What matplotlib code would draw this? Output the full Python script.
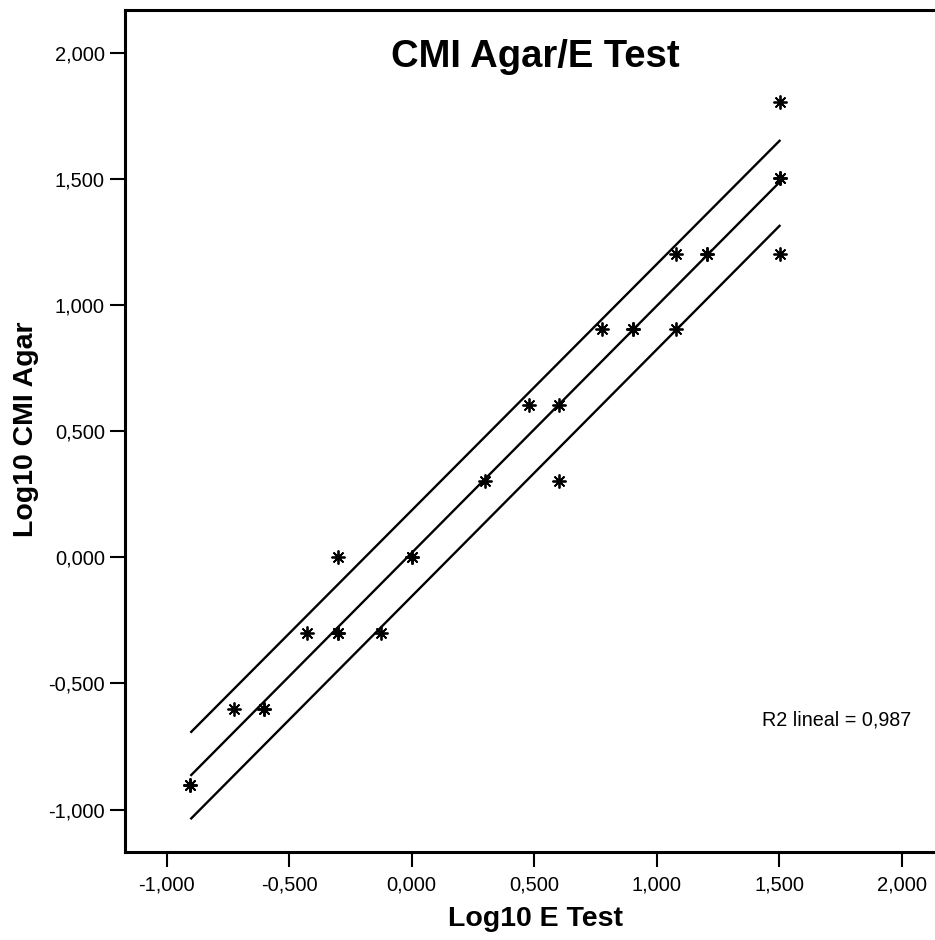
import matplotlib
matplotlib.use("Agg")
import matplotlib.pyplot as plt
from matplotlib.ticker import FixedLocator, FuncFormatter

plt.rcParams['font.family'] = ['Liberation Sans', 'DejaVu Sans']

# ---- data ----
log_etest = [-0.903, -0.903, -0.727, -0.602, -0.602, -0.426, -0.301, -0.301,
             -0.301, -0.125, 0.000, 0.000, 0.301, 0.477, 0.602, 0.602,
             0.778, 0.903, 0.903, 1.079, 1.079, 1.204, 1.204,
             1.505, 1.505, 1.505, 1.505]
log_cmi = [-0.903, -0.903, -0.602, -0.602, -0.602, -0.301, -0.301, -0.301,
           0.000, -0.301, 0.000, 0.000, 0.301, 0.602, 0.602, 0.301,
           0.903, 0.903, 0.903, 0.903, 1.204, 1.204, 1.204,
           1.806, 1.505, 1.505, 1.204]

fit_x = [-0.903, 1.505]
fit_mid = [-0.866, 1.490]
fit_upper = [-0.695, 1.654]
fit_lower = [-1.038, 1.317]

x_ticks = [-1.0, -0.5, 0.0, 0.5, 1.0, 1.5, 2.0]
y_ticks = [-1.0, -0.5, 0.0, 0.5, 1.0, 1.5, 2.0]

title = "CMI Agar/E Test"
x_label = "Log10 E Test"
y_label = "Log10 CMI Agar"
r2_text = "R2 lineal = 0,987"

# ---- figure ----
W, H = 935, 940
fig = plt.figure(figsize=(W / 100, H / 100), dpi=100)
ax = fig.add_axes([125 / W, 87.7 / H, 821 / W, 842.3 / H])

ax.set_xlim(-1.170, 2.181)
ax.set_ylim(-1.169, 2.169)

for yy in (fit_upper, fit_mid, fit_lower):
    ax.plot(fit_x, yy, color='black', lw=1.7, solid_capstyle='butt', zorder=2)

ax.plot(log_etest, log_cmi, linestyle='none', marker=(8, 2, 0),
        markersize=10, markeredgewidth=1.3, color='black', zorder=3)

fmt = FuncFormatter(lambda v, p: ("%.3f" % (0.0 if abs(v) < 1e-9 else v)).replace('.', ','))
ax.xaxis.set_major_locator(FixedLocator(x_ticks))
ax.yaxis.set_major_locator(FixedLocator(y_ticks))
ax.xaxis.set_major_formatter(fmt)
ax.yaxis.set_major_formatter(fmt)
ax.tick_params(axis='both', direction='out', length=11, width=1.5,
               labelsize=14.5, colors='black')
ax.tick_params(axis='x', pad=6)
ax.tick_params(axis='y', pad=3.5)

for s in ('left', 'bottom', 'top', 'right'):
    ax.spines[s].set_linewidth(2.2)
    ax.spines[s].set_color('black')

ax.text(0.5, 0.932, title, transform=ax.transAxes, ha='center', va='baseline',
        fontsize=27.5, fontweight='bold')
ax.text((761.7 - 125) / 821, (852.3 - 725) / 842.3, r2_text, transform=ax.transAxes,
        ha='left', va='baseline', fontsize=14.2)

fig.text(535.5 / W, (H - 926) / H, x_label, ha='center', va='baseline',
         fontsize=20.5, fontweight='bold')
fig.text(26 / W, (H - 429.5) / H, y_label, ha='center', va='center',
         rotation=90, fontsize=20.5, fontweight='bold')

fig.savefig("out.png", dpi=100)
